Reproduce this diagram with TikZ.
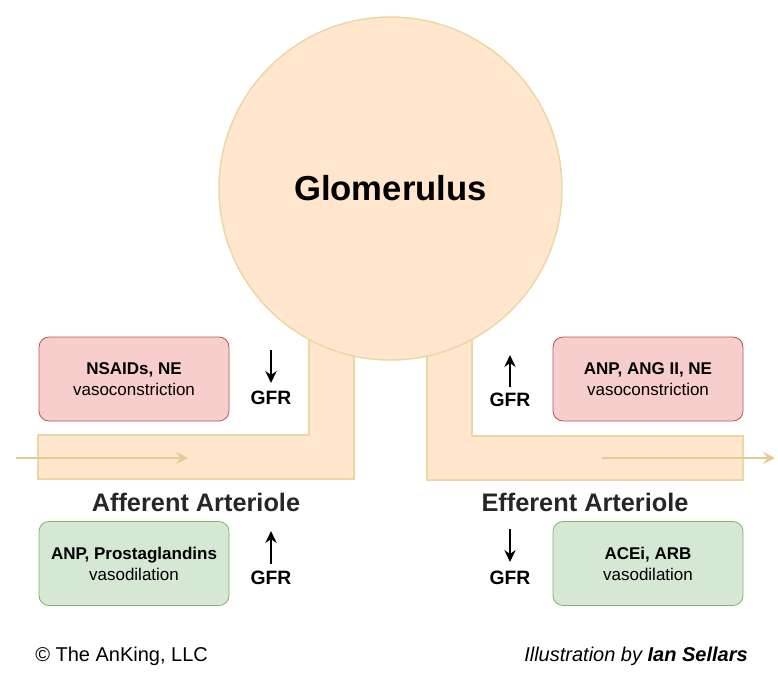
\documentclass[tikz,border=0pt]{standalone}
\usepackage{fontspec}
\setmainfont{Liberation Sans}
\usetikzlibrary{arrows.meta}
\definecolor{tubefill}{HTML}{FFE6CC}
\definecolor{tubeline}{HTML}{EBD6A6}
\definecolor{flowcol}{HTML}{E3CB93}
\definecolor{redfill}{HTML}{F8CECC}
\definecolor{redline}{HTML}{B85450}
\definecolor{greenfill}{HTML}{D5E8D4}
\definecolor{greenline}{HTML}{82B366}
\tikzset{
  x=0.75pt, y=-0.75pt,
  tube/.style={fill=tubefill, draw=tubeline, line width=1.1pt},
  flow/.style={draw=flowcol, line width=1.5pt, -{Stealth[length=9pt,width=9pt,inset=3.5pt]}},
  drugbox/.style={rectangle, rounded corners=7.5pt, minimum width=142.5pt, minimum height=63pt, align=center, inner sep=2pt, line width=0.6pt, font=\fontsize{12.75}{15.75}\selectfont},
  redbox/.style={drugbox, fill=redfill, draw=redline},
  greenbox/.style={drugbox, fill=greenfill, draw=greenline},
  gfr/.style={font=\fontsize{14.5}{16}\selectfont\bfseries, inner sep=0pt},
  gfrarrow/.style={draw=black, line width=1.2pt, -{Stealth[length=9pt,width=8.5pt,inset=3pt]}},
  title/.style={font=\fontsize{19}{22}\selectfont\bfseries, text=black!85, inner sep=0pt},
  foot/.style={font=\fontsize{15}{18}\selectfont, inner sep=0pt}
}
\begin{document}
\begin{tikzpicture}
\useasboundingbox (0,0) rectangle (778,683);
% tubes
\draw[tube] (38,435) -- (309,435) -- (309,300) -- (354,300) -- (354,479) -- (38,479) -- cycle;
\draw[tube] (427,300) -- (427,480) -- (743,480) -- (743,436) -- (472,436) -- (472,300) -- cycle;
% glomerulus
\node[circle, fill=tubefill, draw=tubeline, line width=1.1pt, minimum size=257.25pt, inner sep=0pt,
      font=\fontsize{26}{30}\selectfont\bfseries] (glom) at (390.5,188.5) {Glomerulus};
% flow arrows
\coordinate (ain) at (16,458);
\coordinate (aout) at (188,458);
\coordinate (ein) at (602,458);
\coordinate (eout) at (775,458);
\draw[flow] (ain) -- (aout);
\draw[flow] (ein) -- (eout);
% boxes
\node[redbox] (nsaid) at (134,379) {{\bfseries NSAIDs, NE}\\vasoconstriction};
\node[greenbox] (anpp) at (134,563.5) {{\bfseries ANP, Prostaglandins}\\vasodilation};
\node[redbox] (angii) at (648,379) {{\bfseries ANP, ANG II, NE}\\vasoconstriction};
\node[greenbox] (acei) at (648,563.5) {{\bfseries ACEi, ARB}\\vasodilation};
% labels
\node[title] (aff) at (196,502) {Afferent Arteriole};
\node[title] (eff) at (585,502) {Efferent Arteriole};
% GFR indicators
\node[gfr] (g1) at (271,398) {GFR};
\coordinate (g1a) at (271,350);
\coordinate (g1b) at (271,383);
\draw[gfrarrow] (g1a) -- (g1b);
\node[gfr] (g2) at (510,400) {GFR};
\coordinate (g2a) at (510,387);
\coordinate (g2b) at (510,355);
\draw[gfrarrow] (g2a) -- (g2b);
\node[gfr] (g3) at (271,578) {GFR};
\coordinate (g3a) at (271,564);
\coordinate (g3b) at (271,531);
\draw[gfrarrow] (g3a) -- (g3b);
\node[gfr] (g4) at (510,578) {GFR};
\coordinate (g4a) at (510,529);
\coordinate (g4b) at (510,562);
\draw[gfrarrow] (g4a) -- (g4b);
% footer
\node[foot, anchor=west] (copy) at (35,656) {© The AnKing, LLC};
\node[foot, anchor=east] (illu) at (748,656) {\itshape Illustration by \bfseries Ian Sellars};
\end{tikzpicture}
\end{document}
